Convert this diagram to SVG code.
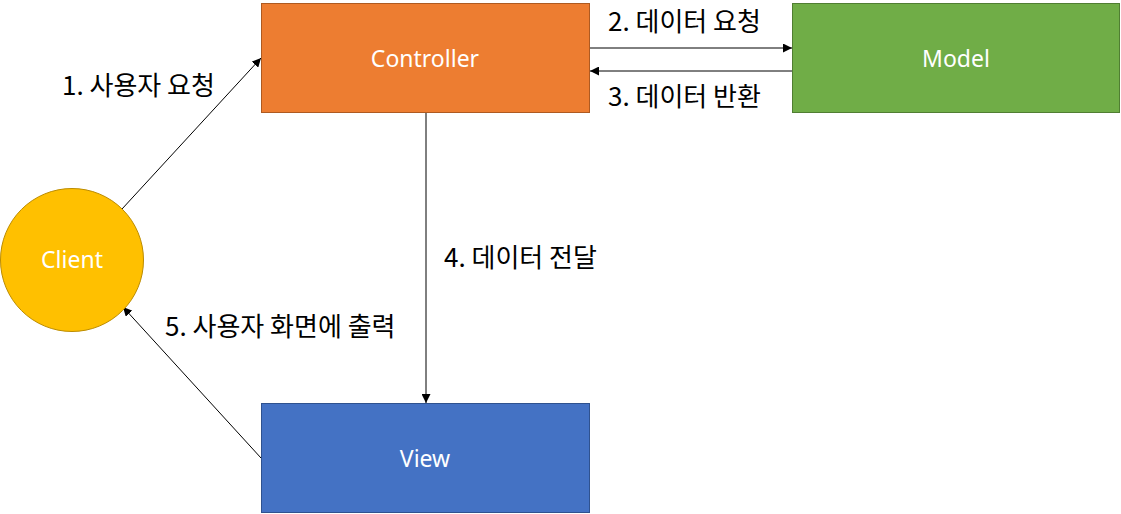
<svg xmlns="http://www.w3.org/2000/svg" width="1121" height="514" viewBox="0 0 1121 514">
<style>
.lbl{font-family:"Noto Sans CJK KR","Noto Sans",sans-serif;font-size:26px;fill:#000}
.nt{font-family:"Noto Sans","Open Sans",sans-serif;font-size:23px;fill:#fff;text-anchor:middle;dominant-baseline:central}
.edge{stroke:#000;stroke-width:1;fill:none;marker-end:url(#ah)}
</style>
<defs>
<marker id="ah" viewBox="0 0 10 10" refX="10" refY="5" markerWidth="9" markerHeight="9" markerUnits="userSpaceOnUse" orient="auto">
<path d="M0,0 L10,5 L0,10 z" fill="#000"/>
</marker>
</defs>
<rect width="1121" height="514" fill="#fff"/>
<g id="connectors">
<line class="edge" x1="122" y1="209" x2="261" y2="58"/>
<line class="edge" x1="590" y1="48" x2="792" y2="48"/>
<line class="edge" x1="792" y1="71" x2="590" y2="71"/>
<line class="edge" x1="426" y1="113" x2="426" y2="403"/>
<line class="edge" x1="261" y1="458" x2="123" y2="307"/>
<text class="lbl" x="62" y="95">1. 사용자 요청</text>
<text class="lbl" x="608" y="31">2. 데이터 요청</text>
<text class="lbl" x="608" y="106">3. 데이터 반환</text>
<text class="lbl" x="444" y="267">4. 데이터 전달</text>
<text class="lbl" x="165" y="336">5. 사용자 화면에 출력</text>
</g>
<g id="client">
<circle cx="72" cy="260" r="71.5" fill="#FFC000" stroke="#BC8C00" stroke-width="1"/>
<text class="nt" x="72" y="259">Client</text>
</g>
<g id="controller">
<rect x="261.5" y="3.5" width="328" height="109" fill="#ED7D31" stroke="#AE5A21" stroke-width="1"/>
<text class="nt" x="425" y="58">Controller</text>
</g>
<g id="model">
<rect x="792.5" y="3.5" width="327" height="109" fill="#70AD47" stroke="#507E32" stroke-width="1"/>
<text class="nt" x="956" y="58">Model</text>
</g>
<g id="view">
<rect x="261.5" y="403.5" width="328" height="109" fill="#4472C4" stroke="#2F528F" stroke-width="1"/>
<text class="nt" x="425" y="458">View</text>
</g>
</svg>
